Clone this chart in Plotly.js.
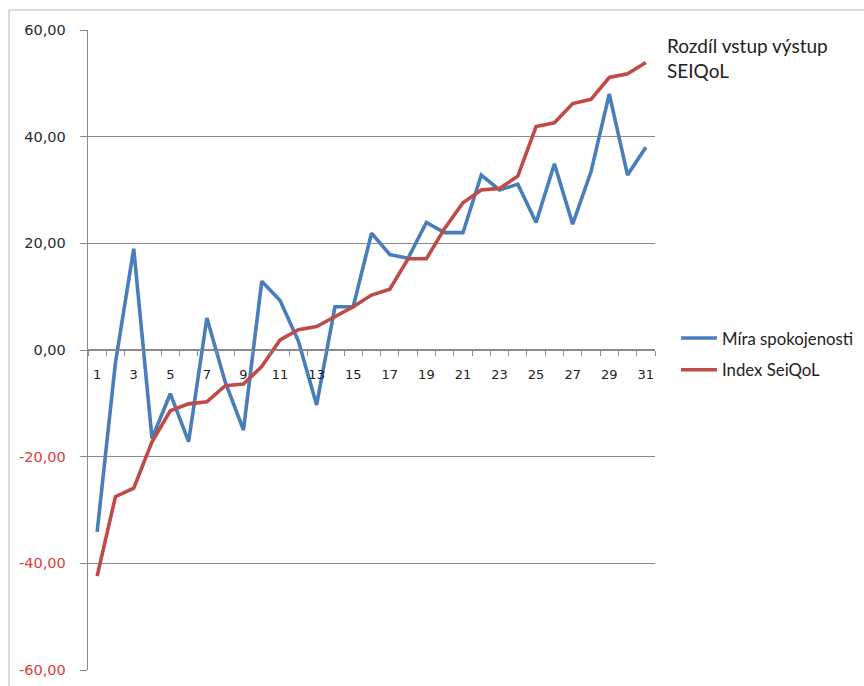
<!DOCTYPE html>
<html>
<head>
<meta charset="utf-8">
<script src="https://cdn.plot.ly/plotly-3.0.1.min.js"></script>
<style>
  html, body { margin: 0; padding: 0; background: #ffffff; }
  #chart { width: 864px; height: 686px; }
</style>
</head>
<body>
<div id="chart"></div>
<script>
// Respondent order (categories on the x axis)
const respondents = Array.from({length: 31}, (_, i) => String(i + 1));

// Satisfaction difference (entry vs. exit)
const miraSpokojenosti = [-34.1, -2.4, 19.0, -16.6, -8.2, -17.2, 6.0, -6.0, -15.0, 12.9,
  9.3, 1.7, -10.3, 8.1, 8.1, 21.9, 17.9, 17.2, 23.9, 22.0,
  22.0, 32.8, 30.0, 31.1, 23.9, 34.9, 23.6, 33.4, 48.0, 32.8, 38.0];

// SEIQoL index difference (entry vs. exit)
const indexSeiQoL = [-42.4, -27.5, -25.9, -17.2, -11.4, -10.1, -9.7, -6.7, -6.4, -3.1,
  1.9, 3.8, 4.4, 6.3, 8.1, 10.3, 11.4, 17.1, 17.1, 22.8,
  27.6, 30.0, 30.3, 32.6, 41.9, 42.6, 46.2, 47.0, 51.1, 51.8, 53.9];

// Axis tick values and labels
const yTickVals = [-60, -40, -20, 0, 20, 40, 60];
const yTickLabels = ['-60,00', '-40,00', '-20,00', '0,00', '20,00', '40,00', '60,00'];
const xTickLabels = respondents.map((r, i) => (i % 2 === 0 ? r : ''));

const seriesNames = ['Míra spokojenosti', 'Index SeiQoL'];
const chartTitle = 'Rozdíl vstup výstup<br>SEIQoL';

const negColor = '#dd3b3b';
const posColor = '#2b2b2b';
const yTickText = yTickVals.map((v, i) =>
  '<span style="color:' + (v < 0 ? negColor : posColor) + '">' + yTickLabels[i] + '</span>');

const traces = [
  {
    x: respondents, y: miraSpokojenosti, name: seriesNames[0],
    type: 'scatter', mode: 'lines', legendgroup: 'a',
    line: {color: '#4a7ebb', width: 3.6}
  },
  {
    x: respondents, y: indexSeiQoL, name: seriesNames[1],
    type: 'scatter', mode: 'lines', legendgroup: 'b',
    line: {color: '#be4b48', width: 3.6}
  }
];

const gridColor = '#8a8a8a';

const layout = {
  width: 864, height: 686,
  margin: {l: 88, r: 209, t: 30, b: 16, pad: 0, autoexpand: false},
  paper_bgcolor: '#ffffff',
  plot_bgcolor: '#ffffff',
  showlegend: true,
  title: {
    text: chartTitle,
    x: 667 / 864, xref: 'container', xanchor: 'left',
    y: 1 - 53 / 686, yref: 'container', yanchor: 'top',
    font: {family: 'Lato, "Open Sans", sans-serif', size: 19, color: '#222222'}
  },
  legend: {
    x: 1.037, y: 0.546, xanchor: 'left', yanchor: 'top',
    bgcolor: 'rgba(0,0,0,0)',
    traceorder: 'grouped', tracegroupgap: 7,
    font: {family: 'Lato, "Open Sans", sans-serif', size: 16.8, color: '#222222'},
    itemwidth: 36
  },
  xaxis: {
    type: 'category',
    range: [-0.5, 30.5],
    tickmode: 'array', tickvals: respondents, ticktext: xTickLabels,
    tickson: 'boundaries', tickangle: 0,
    ticks: 'outside', ticklen: 5, tickcolor: gridColor, tickwidth: 1,
    ticklabelstandoff: 12,
    showline: true, linecolor: gridColor, linewidth: 1.3,
    showgrid: false, zeroline: false,
    anchor: 'free', position: 0.5,
    tickfont: {family: '"DejaVu Sans", Verdana, sans-serif', size: 13, color: '#222222'},
    fixedrange: true
  },
  yaxis: {
    range: [-60, 60],
    tickmode: 'array', tickvals: yTickVals, ticktext: yTickText,
    ticks: 'outside', ticklen: 7, tickcolor: gridColor, tickwidth: 1,
    ticklabelstandoff: 11,
    showline: true, linecolor: gridColor, linewidth: 1.3,
    showgrid: true, gridcolor: gridColor, gridwidth: 1.3,
    zeroline: false,
    tickfont: {family: '"DejaVu Sans", Verdana, sans-serif', size: 14.5, color: posColor},
    fixedrange: true
  },
  shapes: [
    {
      type: 'rect', xref: 'paper', yref: 'paper',
      x0: -79 / 567, x1: 2, y0: -1, y1: 1 + 20 / 640,
      line: {color: '#b8b8b8', width: 1}, fillcolor: 'rgba(0,0,0,0)', layer: 'below'
    }
  ]
};

Plotly.newPlot('chart', traces, layout, {displayModeBar: false, staticPlot: true});
</script>
</body>
</html>
